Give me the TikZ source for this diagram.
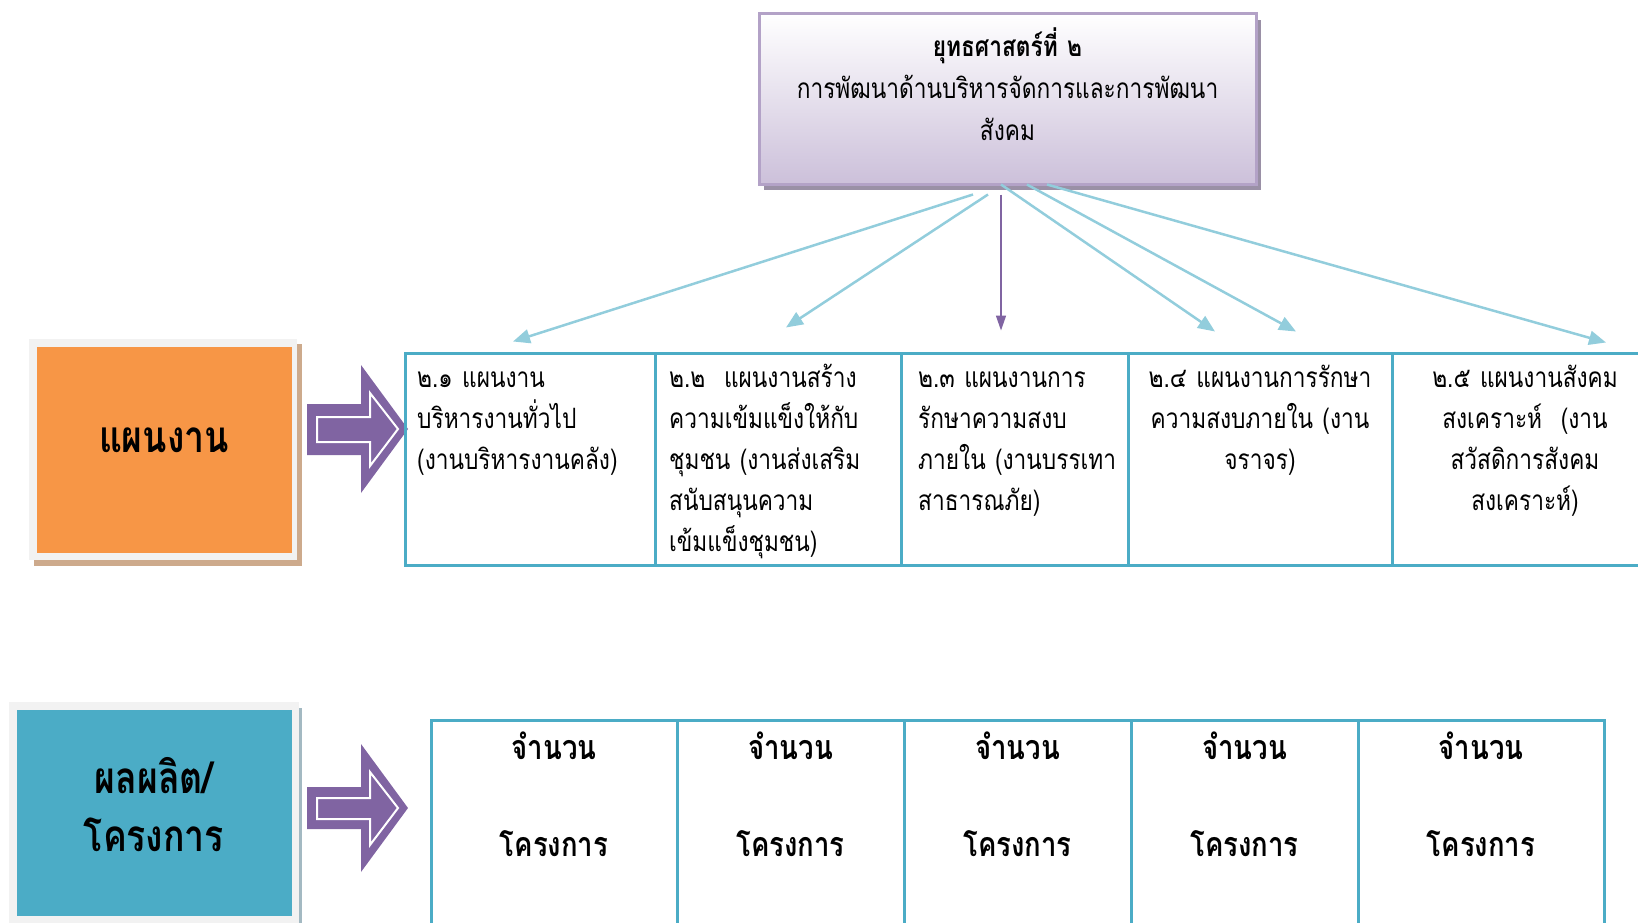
\documentclass[tikz,border=0pt]{standalone}
\usepackage{fontspec}
\setmainfont[Script=Thai, FakeStretch=0.81]{Loma}
\usetikzlibrary{arrows.meta}

\definecolor{planorange}{HTML}{F79646}
\definecolor{cellblue}{HTML}{4BACC6}
\definecolor{linkblue}{HTML}{92CDDC}
\definecolor{arrowpurple}{HTML}{8064A2}
\definecolor{stratlilac}{HTML}{CCC0DA}
\definecolor{stratedge}{HTML}{B3A2C7}
\definecolor{stratshade}{HTML}{9A90A6}
\definecolor{planshade}{HTML}{CDAA8C}
\definecolor{outshade}{HTML}{A3B9C2}
\definecolor{framegrey}{HTML}{F2F2F2}

\begin{document}
\begin{tikzpicture}[x=1pt, y=-1pt,
    cell/.style={draw=cellblue, line width=3pt, inner sep=0pt},
    plantext/.style={font=\fontsize{28}{41}\selectfont, inner sep=0pt, text width=236pt},
    counttext/.style={font=\fontsize{34}{48}\selectfont\bfseries, inner sep=0pt, text width=200pt, align=center, anchor=base},
    boxlabel/.style={font=\fontsize{44}{58}\selectfont\bfseries, inner sep=0pt, text width=250pt, align=center, anchor=base},
    link/.style={linkblue, line width=2.5pt, -{Triangle[length=17pt,width=14pt]}}]

\clip (0,0) rectangle (1638,923);

% strategy box
\fill[stratshade] (764,20) rectangle (1261,190);
\node[draw=stratedge, line width=3pt, top color=white, bottom color=stratlilac,
      minimum width=497pt, minimum height=170pt, inner sep=0pt] (strat) at (1007.5,99) {};
\node[font=\fontsize{28}{42}\selectfont, text width=480pt, align=center, inner sep=0pt, anchor=base] (strattext) at (1007.5,57)
  {\textbf{ยุทธศาสตร์ที่ ๒}\\การพัฒนาด้านบริหารจัดการและการพัฒนา\\สังคม};

% left boxes
\fill[planshade] (34,344) rectangle (302,566);
\fill[framegrey] (29,339) rectangle (297,560);
\fill[planorange] (37,347) rectangle (292,553);
\node[boxlabel] (planlabel) at (164,452) {แผนงาน};

\fill[outshade] (297,708) rectangle (302,923);
\fill[framegrey] (9,702) rectangle (299,923);
\fill[cellblue] (17,710) rectangle (292,916);
\node[boxlabel] (outlabel) at (154,793) {ผลผลิต/\\โครงการ};

% block arrows
\fill[arrowpurple] (307,404) -- (361,404) -- (361,365) -- (408,429) -- (361,493) -- (361,455) -- (307,455) -- cycle;
\draw[white, line width=2pt] (317,417) -- (370,417) -- (370,393) -- (398,429) -- (370,466) -- (370,442) -- (317,442) -- cycle;
\fill[arrowpurple] (307,787) -- (361,787) -- (361,744) -- (408,808) -- (361,872) -- (361,829) -- (307,829) -- cycle;
\draw[white, line width=2pt] (317,798) -- (370,798) -- (370,772) -- (398,808) -- (370,845) -- (370,819) -- (317,819) -- cycle;

% plans row
\node[cell, minimum width=250pt, minimum height=212pt] (plan1) at (530,459) {};
\node[cell, minimum width=246pt, minimum height=212pt] (plan2) at (778,459) {};
\node[cell, minimum width=227pt, minimum height=212pt] (plan3) at (1014.5,459) {};
\node[cell, minimum width=264pt, minimum height=212pt] (plan4) at (1260,459) {};
\node[cell, minimum width=266pt, minimum height=212pt] (plan5) at (1525,459) {};

\node[plantext, align=left, anchor=base west] (text1) at (417,387) {๒.๑ แผนงาน\\บริหารงานทั่วไป\\(งานบริหารงานคลัง)};
\node[plantext, align=left, anchor=base west] (text2) at (669,387) {๒.๒~~แผนงานสร้าง\\ความเข้มแข็งให้กับ\\ชุมชน (งานส่งเสริม\\สนับสนุนความ\\เข้มแข็งชุมชน)};
\node[plantext, align=left, anchor=base west] (text3) at (918,387) {๒.๓ แผนงานการ\\รักษาความสงบ\\ภายใน (งานบรรเทา\\สาธารณภัย)};
\node[plantext, align=center, anchor=base] (text4) at (1260,387) {๒.๔ แผนงานการรักษา\\ความสงบภายใน (งาน\\จราจร)};
\node[plantext, align=center, anchor=base] (text5) at (1525,387) {๒.๕ แผนงานสังคม\\สงเคราะห์~~(งาน\\สวัสดิการสังคม\\สงเคราะห์)};

% links
\draw[link] ([shift={(-34.5,9)}]strat.south) -- ([shift={(-17,-10)}]plan1.north);
\draw[link] ([shift={(-19.5,9)}]strat.south) -- ([shift={(8,-24)}]plan2.north);
\draw[arrowpurple, line width=1.5pt, -{Triangle[length=15pt,width=10pt]}] ([shift={(-6.5,9)}]strat.south) -- ([shift={(-13.5,-21)}]plan3.north);
\draw[link] ([shift={(-6.5,-1)}]strat.south) -- ([shift={(-45,-20)}]plan4.north);
\draw[link] ([shift={(19.5,-1)}]strat.south) -- ([shift={(36,-20)}]plan4.north);
\draw[link] ([shift={(39.5,-1)}]strat.south) -- ([shift={(81,-9)}]plan5.north);

% outputs row
\node[cell, minimum width=246pt, minimum height=230pt] (out1) at (554,835) {};
\node[cell, minimum width=227pt, minimum height=230pt] (out2) at (790.5,835) {};
\node[cell, minimum width=227pt, minimum height=230pt] (out3) at (1017.5,835) {};
\node[cell, minimum width=227pt, minimum height=230pt] (out4) at (1244.5,835) {};
\node[cell, minimum width=246pt, minimum height=230pt] (out5) at (1481,835) {};

\node[counttext] (count1) at (554,759) {จำนวน\\[49pt]โครงการ};
\node[counttext] (count2) at (790.5,759) {จำนวน\\[49pt]โครงการ};
\node[counttext] (count3) at (1017.5,759) {จำนวน\\[49pt]โครงการ};
\node[counttext] (count4) at (1244.5,759) {จำนวน\\[49pt]โครงการ};
\node[counttext] (count5) at (1481,759) {จำนวน\\[49pt]โครงการ};

\end{tikzpicture}
\end{document}
